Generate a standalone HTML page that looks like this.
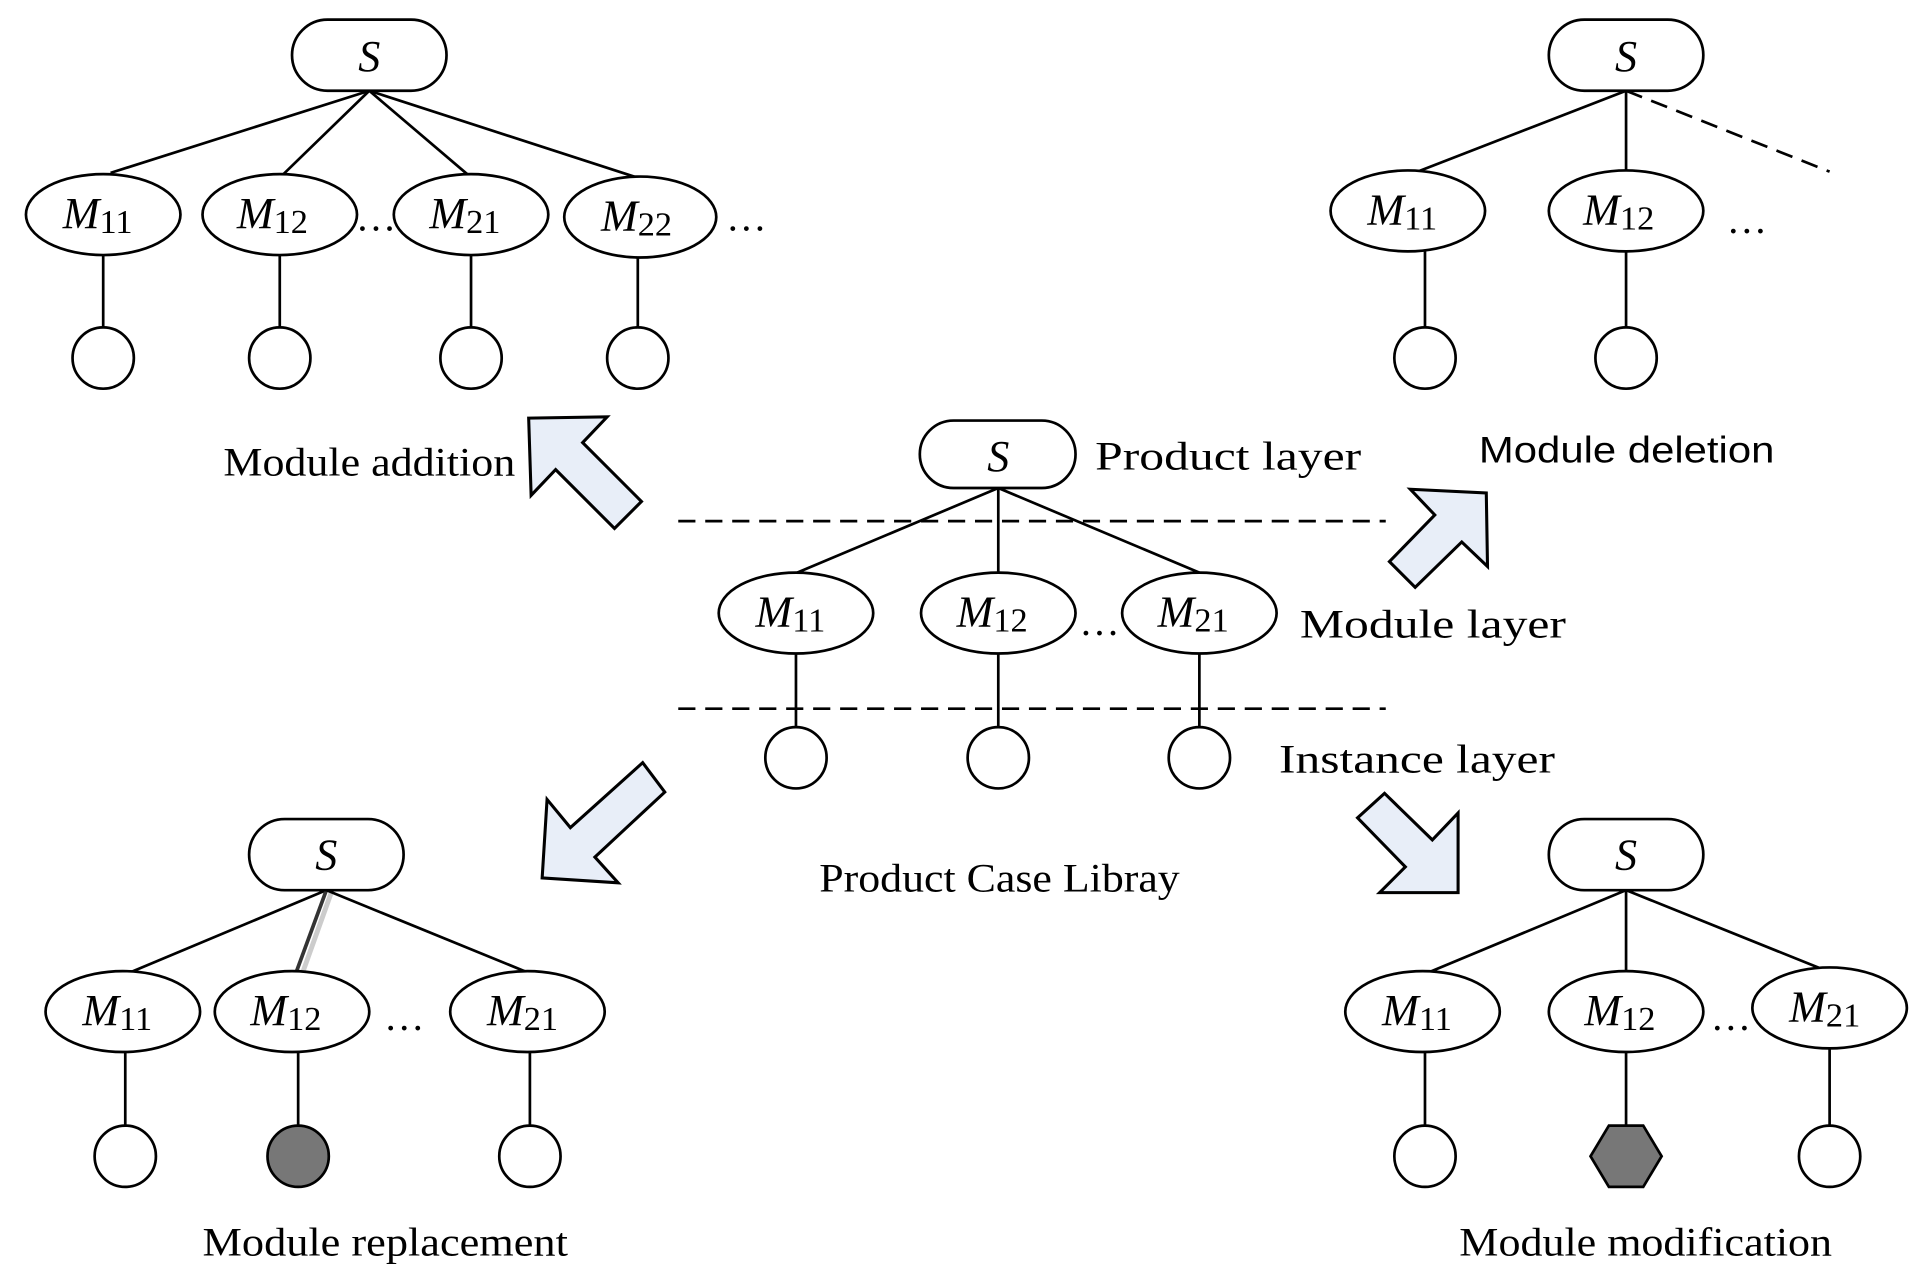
<!DOCTYPE html>
<html><head><meta charset="utf-8"><style>html,body{margin:0;padding:0;background:#fff}svg{display:block}</style></head><body>
<svg width="1923" height="1285" viewBox="0 0 1568 1048" xmlns="http://www.w3.org/2000/svg" font-family="Liberation Serif, serif">
<defs>
<style>
.n{fill:#fff;stroke:#000;stroke-width:2.2}
.l{stroke:#000;stroke-width:2.2;fill:none}
.d{stroke:#000;stroke-width:2.2;stroke-dasharray:14 8;fill:none}
.a{fill:#e8eef8;stroke:#000;stroke-width:2.5;stroke-linejoin:miter}
.m{font-size:36px;font-style:italic}
.s{font-size:28px;font-style:normal}
.t{font-size:33px}
</style>
</defs>

<!-- Top-left tree -->
<line class="l" x1="301" y1="74" x2="90" y2="141"/>
<line class="l" x1="301" y1="74" x2="230" y2="143"/>
<line class="l" x1="301" y1="74" x2="382" y2="143"/>
<line class="l" x1="301" y1="74" x2="520" y2="145"/>
<rect class="n" x="238" y="16" width="126" height="58" rx="29"/>
<text class="m" x="301" y="58" text-anchor="middle">S</text>
<ellipse class="n" cx="84" cy="175" rx="63" ry="33"/><text class="m" x="51" y="186">M<tspan class="s" dy="4">11</tspan></text>
<ellipse class="n" cx="228" cy="175" rx="63" ry="33"/><text class="m" x="193" y="186">M<tspan class="s" dy="4">12</tspan></text>
<ellipse class="n" cx="384" cy="175" rx="63" ry="33"/><text class="m" x="350" y="186">M<tspan class="s" dy="4">21</tspan></text>
<ellipse class="n" cx="522" cy="177" rx="62" ry="33"/><text class="m" x="490" y="188">M<tspan class="s" dy="4">22</tspan></text>
<text class="t" x="290" y="188">…</text><text class="t" x="592" y="188">…</text>
<line class="l" x1="84" y1="208" x2="84" y2="267"/><circle class="n" cx="84" cy="292" r="25"/>
<line class="l" x1="228" y1="208" x2="228" y2="267"/><circle class="n" cx="228" cy="292" r="25"/>
<line class="l" x1="384" y1="208" x2="384" y2="267"/><circle class="n" cx="384" cy="292" r="25"/>
<line class="l" x1="520" y1="210" x2="520" y2="267"/><circle class="n" cx="520" cy="292" r="25"/>
<text class="t" x="182" y="388" textLength="238" lengthAdjust="spacingAndGlyphs">Module addition</text>

<!-- Top-right tree -->
<line class="l" x1="1326" y1="74" x2="1156" y2="140"/>
<line class="l" x1="1326" y1="74" x2="1326" y2="140"/>
<line class="d" x1="1326" y1="74" x2="1492" y2="140"/>
<rect class="n" x="1263" y="16" width="126" height="58" rx="29"/>
<text class="m" x="1326" y="58" text-anchor="middle">S</text>
<ellipse class="n" cx="1148" cy="172" rx="63" ry="33"/><text class="m" x="1115" y="183">M<tspan class="s" dy="4">11</tspan></text>
<ellipse class="n" cx="1326" cy="172" rx="63" ry="33"/><text class="m" x="1291" y="183">M<tspan class="s" dy="4">12</tspan></text>
<text class="t" x="1408" y="190">…</text>
<line class="l" x1="1162" y1="205" x2="1162" y2="267"/><circle class="n" cx="1162" cy="292" r="25"/>
<line class="l" x1="1326" y1="205" x2="1326" y2="267"/><circle class="n" cx="1326" cy="292" r="25"/>
<text x="1206" y="377" font-family="Liberation Sans, sans-serif" font-size="30" textLength="241" lengthAdjust="spacingAndGlyphs">Module deletion</text>

<!-- Center -->
<line class="d" x1="553" y1="425" x2="1130" y2="425"/>
<line class="d" x1="553" y1="578" x2="1130" y2="578"/>
<line class="l" x1="814" y1="398" x2="650" y2="467"/>
<line class="l" x1="814" y1="398" x2="814" y2="467"/>
<line class="l" x1="814" y1="398" x2="978" y2="467"/>
<rect class="n" x="750" y="343" width="127" height="55" rx="27.5"/>
<text class="m" x="814" y="384" text-anchor="middle">S</text>
<ellipse class="n" cx="649" cy="500" rx="63" ry="33"/><text class="m" x="616" y="511">M<tspan class="s" dy="4">11</tspan></text>
<ellipse class="n" cx="814" cy="500" rx="63" ry="33"/><text class="m" x="780" y="511">M<tspan class="s" dy="4">12</tspan></text>
<ellipse class="n" cx="978" cy="500" rx="63" ry="33"/><text class="m" x="944" y="511">M<tspan class="s" dy="4">21</tspan></text>
<text class="t" x="880" y="518">…</text>
<line class="l" x1="649" y1="533" x2="649" y2="593"/><circle class="n" cx="649" cy="618" r="25"/>
<line class="l" x1="814" y1="533" x2="814" y2="593"/><circle class="n" cx="814" cy="618" r="25"/>
<line class="l" x1="978" y1="533" x2="978" y2="593"/><circle class="n" cx="978" cy="618" r="25"/>
<text class="t" x="893" y="383" textLength="217" lengthAdjust="spacingAndGlyphs">Product layer</text>
<text class="t" x="1060" y="520" textLength="217" lengthAdjust="spacingAndGlyphs">Module layer</text>
<text class="t" x="1043" y="630" textLength="225" lengthAdjust="spacingAndGlyphs">Instance layer</text>
<text class="t" x="668" y="727" font-size="31" textLength="294" lengthAdjust="spacingAndGlyphs">Product Case Libray</text>

<!-- Bottom-left -->
<line class="l" x1="266" y1="726" x2="106" y2="793"/>
<line x1="270" y1="728" x2="246" y2="795" stroke="#ccc" stroke-width="4"/>
<line x1="266" y1="726" x2="241" y2="794" stroke="#333" stroke-width="3"/>
<line class="l" x1="266" y1="726" x2="430" y2="793"/>
<rect class="n" x="203" y="668" width="126" height="58" rx="29"/>
<text class="m" x="266" y="709" text-anchor="middle">S</text>
<ellipse class="n" cx="100" cy="825" rx="63" ry="33"/><text class="m" x="67" y="836">M<tspan class="s" dy="4">11</tspan></text>
<ellipse class="n" cx="238" cy="825" rx="63" ry="33"/><text class="m" x="204" y="836">M<tspan class="s" dy="4">12</tspan></text>
<ellipse class="n" cx="430" cy="825" rx="63" ry="33"/><text class="m" x="397" y="836">M<tspan class="s" dy="4">21</tspan></text>
<text class="t" x="313" y="840">…</text>
<line class="l" x1="102" y1="858" x2="102" y2="918"/><circle class="n" cx="102" cy="943" r="25"/>
<line class="l" x1="243" y1="858" x2="243" y2="918"/><circle cx="243" cy="943" r="25" fill="#777" stroke="#000" stroke-width="2.2"/>
<line class="l" x1="432" y1="858" x2="432" y2="918"/><circle class="n" cx="432" cy="943" r="25"/>
<text class="t" x="165" y="1024" textLength="298" lengthAdjust="spacingAndGlyphs">Module replacement</text>

<!-- Bottom-right -->
<line class="l" x1="1326" y1="726" x2="1165" y2="793"/>
<line class="l" x1="1326" y1="726" x2="1326" y2="793"/>
<line class="l" x1="1326" y1="726" x2="1485" y2="790"/>
<rect class="n" x="1263" y="668" width="126" height="58" rx="29"/>
<text class="m" x="1326" y="709" text-anchor="middle">S</text>
<ellipse class="n" cx="1160" cy="825" rx="63" ry="33"/><text class="m" x="1127" y="836">M<tspan class="s" dy="4">11</tspan></text>
<ellipse class="n" cx="1326" cy="825" rx="63" ry="33"/><text class="m" x="1292" y="836">M<tspan class="s" dy="4">12</tspan></text>
<ellipse class="n" cx="1492" cy="822" rx="63" ry="33"/><text class="m" x="1459" y="833">M<tspan class="s" dy="4">21</tspan></text>
<text class="t" x="1395" y="840">…</text>
<line class="l" x1="1162" y1="858" x2="1162" y2="918"/><circle class="n" cx="1162" cy="943" r="25"/>
<line class="l" x1="1326" y1="858" x2="1326" y2="918"/>
<polygon points="1312,918 1340,918 1355,943 1340,968 1312,968 1297,943" fill="#777" stroke="#000" stroke-width="2.2"/>
<line class="l" x1="1492" y1="855" x2="1492" y2="918"/><circle class="n" cx="1492" cy="943" r="25"/>
<text class="t" x="1190" y="1024" textLength="304" lengthAdjust="spacingAndGlyphs">Module modification</text>

<!-- Arrows -->
<polygon class="a" points="431,341 495,340 475,361 523,409 501,431 453,383 433,404"/>
<polygon class="a" points="1150,399 1212,402 1213,462 1192,442 1154,479 1133,458 1170,420"/>
<polygon class="a" points="524,622 542,646 485,699 504,720 442,716 446,652 465,675"/>
<polygon class="a" points="1129,647 1168,685 1189,663 1189,728 1125,728 1146,707 1107,667"/>
</svg>
</body></html>
